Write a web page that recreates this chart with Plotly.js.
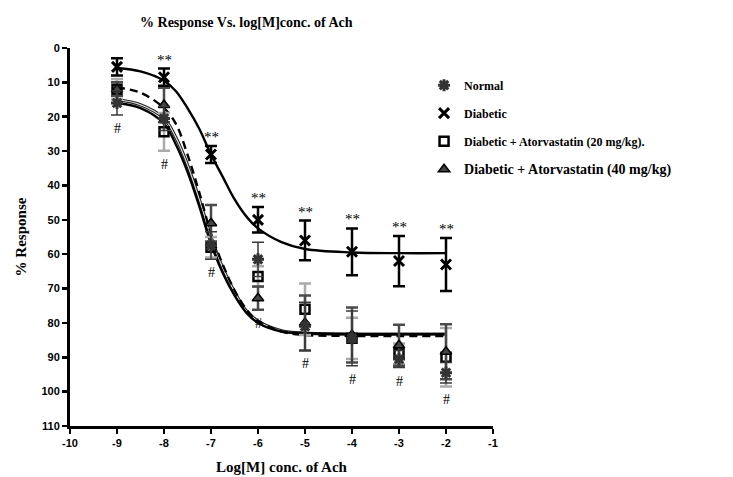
<!DOCTYPE html>
<html>
<head>
<meta charset="utf-8">
<script src="https://cdn.plot.ly/plotly-3.0.1.min.js"></script>
<style>html,body{margin:0;padding:0;background:#fff;}#chart{width:733px;height:477px;}</style>
</head>
<body>
<div id="chart"></div>
<script>
// ---- data ----
var logConc = [-9, -8, -7, -6, -5, -4, -3, -2];

var normalMean = [16, 20.5, 57.5, 61.5, 81, 84.5, 90.5, 94.5];
var normalErr  = [3.5, 3.5, 4, 5, 7, 8, 2.5, 3];

var diabeticMean = [5.5, 8.5, 31, 50, 56, 59.3, 62, 63];
var diabeticErr  = [2.5, 2.5, 2.5, 3.7, 5.8, 6.8, 7.3, 7.7];

var ator20Mean = [12, 24.4, 58, 66.5, 76, 84.5, 89, 90];
var ator20Err  = [3, 5.5, 3, 3, 7.5, 6, 3, 8.5];

var ator40Mean = [12, 16.6, 51, 72.8, 80, 83.5, 86.5, 88.4];
var ator40Err  = [2, 5, 5.3, 3.4, 8, 8, 6, 8];

// fitted curves
var curveX      = [-9, -8.5, -8, -7.75, -7.5, -7.25, -7, -6.75, -6.5, -6.25, -6, -5.5, -5, -4, -3, -2];
var curveNormal = [16, 17.5, 22, 28, 36, 46, 57, 65.5, 72, 77, 80, 82.5, 83, 83.2, 83.2, 83.2];
var curveDiab   = [5.8, 6.8, 9.5, 12.5, 17.5, 23.5, 31, 37.5, 44, 49, 52.5, 56.5, 58.5, 59.5, 59.7, 59.7];
var curveAtor20 = [15, 16.5, 20.5, 26, 34, 44, 55, 64, 71, 76.5, 79.5, 82.3, 83, 83.3, 83.3, 83.3];
var curveAtor40 = [11.5, 13, 17.5, 22, 31, 42, 54, 63, 70.5, 76, 79.5, 82.5, 83.5, 83.8, 83.8, 83.8];

var starLabels = ['', '**', '**', '**', '**', '**', '**', '**'];
var hashLabels = ['#', '#', '#', '#', '#', '#', '#', '#'];

var xTickVals   = [-10, -9, -8, -7, -6, -5, -4, -3, -2, -1];
var xTickLabels = ['-10', '-9', '-8', '-7', '-6', '-5', '-4', '-3', '-2', '-1'];
var yTickVals   = [0, 10, 20, 30, 40, 50, 60, 70, 80, 90, 100, 110];
var yTickLabels = ['0', '10', '20', '30', '40', '50', '60', '70', '80', '90', '100', '110'];

var names = ['Normal', 'Diabetic', 'Diabetic + Atorvastatin (20 mg/kg).',
             '<span style="font-size:14px">Diabetic + Atorvastatin (40 mg/kg)</span>'];

// ---- traces ----
var serif = 'Liberation Serif, Times New Roman, serif';
var sans = 'Liberation Sans, Arial, sans-serif';

function curve(y, color, width, dash) {
  return {x: curveX, y: y, mode: 'lines', type: 'scatter', showlegend: false, hoverinfo: 'skip',
          line: {color: color, width: width, dash: dash || 'solid', shape: 'spline', smoothing: 1}};
}

var traces = [
  curve(curveAtor20, '#222', 3.2),
  curve(curveAtor20, '#e6e6e6', 1.1),
  curve(curveNormal, '#000', 2.4),
  curve(curveAtor40, '#000', 2.4, '8px,5px'),
  curve(curveDiab, '#000', 2.4),
  {x: logConc, y: ator20Mean, name: names[2], legendgroup: 'c', mode: 'markers', type: 'scatter',
   error_y: {type: 'data', array: ator20Err, visible: true, color: '#aaaaaa', thickness: 2.5, width: 6},
   marker: {symbol: 'square-open', size: 9, color: '#000', line: {color: '#000', width: 2.5}}},
  {x: logConc, y: ator40Mean, name: names[3], legendgroup: 'd', mode: 'markers', type: 'scatter',
   error_y: {type: 'data', array: ator40Err, visible: true, color: '#4a4a4a', thickness: 2.5, width: 6},
   marker: {symbol: 'triangle-up', size: 10, color: '#444', line: {color: '#000', width: 1.5}}},
  {x: logConc, y: normalMean, name: names[0], legendgroup: 'a', mode: 'markers', type: 'scatter',
   error_y: {type: 'data', array: normalErr, visible: true, color: '#3a3a3a', thickness: 1.5, width: 6},
   marker: {symbol: 'asterisk-open', size: 10, color: '#333', line: {color: '#333', width: 3}}},
  {x: logConc, y: diabeticMean, name: names[1], legendgroup: 'b', mode: 'markers', type: 'scatter',
   error_y: {type: 'data', array: diabeticErr, visible: true, color: '#000', thickness: 2.5, width: 6},
   marker: {symbol: 'x-thin-open', size: 10, color: '#000', line: {color: '#000', width: 3}}}
];

// legend order: Normal, Diabetic, Ator20, Ator40
traces[7].legendrank = 1; traces[8].legendrank = 2; traces[5].legendrank = 3; traces[6].legendrank = 4;

// ---- significance marks ----
var annotations = [];
for (var i = 0; i < logConc.length; i++) {
  if (starLabels[i]) {
    annotations.push({x: logConc[i], y: diabeticMean[i] - diabeticErr[i], text: starLabels[i],
      showarrow: false, yanchor: 'bottom', xanchor: 'center', yshift: -1,
      font: {family: serif, size: 15, color: '#000000'}});
  }
  var low = Math.max(normalMean[i] + normalErr[i], ator20Mean[i] + ator20Err[i], ator40Mean[i] + ator40Err[i]);
  annotations.push({x: logConc[i], y: low, text: hashLabels[i], showarrow: false,
    yanchor: 'top', xanchor: 'center', yshift: -4,
    font: {family: serif, size: 14, color: '#000000'}});
}

var layout = {
  width: 733, height: 477,
  margin: {l: 70, r: 240, t: 48, b: 51},
  paper_bgcolor: '#fff', plot_bgcolor: '#fff',
  font: {family: serif, color: '#000000'},
  title: {text: '% Response Vs. log[M]conc. of Ach', x: 0.336, xref: 'container', xanchor: 'center',
          y: 0.954, yref: 'container', yanchor: 'middle',
          font: {family: serif, size: 14, weight: 'bold', color: '#000'}},
  xaxis: {range: [-10, -1], autorange: false, tickvals: xTickVals, ticktext: xTickLabels,
          showline: true, linecolor: '#000', linewidth: 3, ticks: 'outside', ticklen: 5, tickwidth: 2.5,
          tickcolor: '#000', showgrid: false, zeroline: false,
          tickfont: {family: sans, size: 11, weight: 'bold', color: '#000'},
          title: {text: 'Log[M] conc. of Ach', standoff: 14, font: {family: serif, size: 15, weight: 'bold', color: '#000'}}},
  yaxis: {range: [110, 0], autorange: false, tickvals: yTickVals, ticktext: yTickLabels,
          showline: true, linecolor: '#000', linewidth: 3, ticks: 'outside', ticklen: 5, tickwidth: 2.5,
          tickcolor: '#000', showgrid: false, zeroline: false,
          tickfont: {family: sans, size: 11, weight: 'bold', color: '#000'},
          title: {text: '% Response', standoff: 12, font: {family: serif, size: 15, weight: 'bold', color: '#000'}}},
  legend: {x: 0.837, y: 0.94, xanchor: 'left', yanchor: 'top', bgcolor: 'rgba(0,0,0,0)',
           traceorder: 'grouped', tracegroupgap: 9,
           font: {family: serif, size: 12, weight: 'bold', color: '#000'}},
  annotations: annotations,
  showlegend: true
};

Plotly.newPlot('chart', traces, layout, {displayModeBar: false, staticPlot: true});
</script>
</body>
</html>
